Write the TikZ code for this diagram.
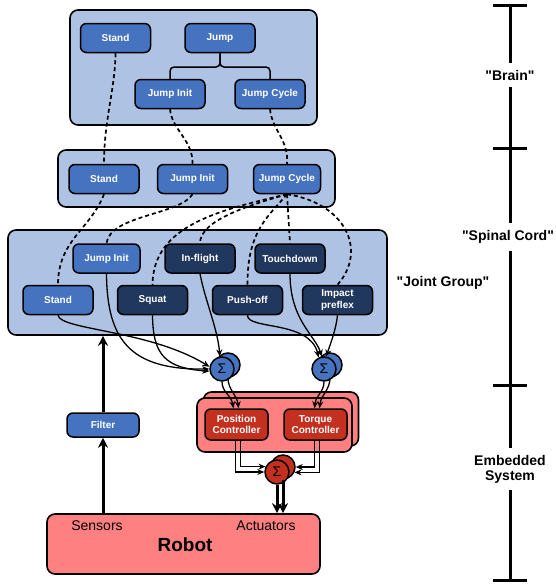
\documentclass[tikz,border=0pt]{standalone}
\usepackage{fontspec}
\setmainfont{Liberation Sans}[Ligatures=TeXOff]
\usetikzlibrary{arrows.meta}
\definecolor{lightblue}{HTML}{AEC2E3}
\definecolor{medblue}{HTML}{4673C0}
\definecolor{navy}{HTML}{20375E}
\definecolor{pinkbox}{HTML}{FF8080}
\definecolor{darkred}{HTML}{C3301F}
\begin{document}
\begin{tikzpicture}[x=1pt,y=-1pt,
  bigbox/.style={draw=black, line width=1.6pt, fill=lightblue, rounded corners=8pt, inner sep=0pt},
  nd/.style={draw=black, line width=1.5pt, rounded corners=6pt, minimum width=70pt, minimum height=29pt,
    text=white, font=\bfseries\fontsize{10}{11.5}\selectfont, align=center, inner sep=1pt},
  mb/.style={nd, fill=medblue},
  db/.style={nd, fill=navy},
  rd/.style={nd, fill=darkred, minimum width=63pt, minimum height=31pt},
  sumb/.style={circle, draw=black, line width=1.5pt, fill=medblue, minimum size=24pt, inner sep=0pt, font=\fontsize{14}{14}\selectfont},
  sumr/.style={sumb, fill=darkred},
  dsh/.style={draw=black, line width=1.7pt, dash pattern=on 4pt off 3pt},
  arr/.style={draw=black, line width=1.3pt, -{Stealth[length=7pt,width=6pt]}},
  tarr/.style={draw=black, line width=3pt, -{Stealth[length=10pt,width=10pt]}},
  lbl/.style={font=\bfseries\fontsize{14}{16}\selectfont, align=center},
  axlbl/.style={lbl, fill=white, inner xsep=1pt, inner ysep=7pt}
]
\useasboundingbox (0,0) rectangle (556,584);

% big boxes
\node[bigbox, minimum width=247pt, minimum height=115pt] (brain) at (193.5,67.5) {};
\node[bigbox, minimum width=277pt, minimum height=57pt] (spinal) at (196.5,178.5) {};
\node[bigbox, minimum width=379pt, minimum height=105pt] (jg) at (197.5,282.5) {};
\node[bigbox, fill=pinkbox, minimum width=155pt, minimum height=54pt] (embb) at (281,419) {};
\node[bigbox, fill=pinkbox, minimum width=155pt, minimum height=54pt] (emb) at (274.5,425) {};
\node[bigbox, fill=pinkbox, minimum width=273pt, minimum height=60pt] (robot) at (183.5,544) {};

% brain nodes
\node[mb] (bStand) at (115.5,38) {Stand};
\node[mb] (bJump) at (220,38) {Jump};
\node[mb] (bInit) at (170,94) {Jump Init};
\node[mb] (bCycle) at (270,94) {Jump Cycle};
\draw[line width=1.5pt, rounded corners=4pt] (bJump.south) -- (220,67) -| (bInit.north);
\draw[line width=1.5pt, rounded corners=4pt] (bJump.south) -- (220,67) -| (bCycle.north);

% spinal nodes
\node[mb] (sStand) at (104,179) {Stand};
\node[mb] (sInit) at (192.5,179) {Jump Init};
\node[mb, minimum width=67pt] (sCycle) at (287,179) {Jump Cycle};

% joint group nodes
\node[mb, minimum width=67pt] (jInit) at (106.5,258.5) {Jump Init};
\node[db] (jFlight) at (200,258.5) {In-flight};
\node[db] (jTouch) at (290,258.5) {Touchdown};
\node[mb] (jStand) at (58,300) {Stand};
\node[db] (jSquat) at (152.5,300) {Squat};
\node[db] (jPush) at (247.5,300) {Push-off};
\node[db] (jImpact) at (337.5,300) {Impact\\preflex};

% dashed links brain -> spinal
\draw[dsh] (bStand.south) .. controls (115,90) and (104,120) .. (sStand.north);
\draw[dsh] (bInit.south) .. controls (172,130) and (193,140) .. (sInit.north);
\draw[dsh] (bCycle.south) .. controls (272,130) and (289,140) .. (sCycle.north);

% dashed links spinal -> joint group
\draw[dsh] (sStand.south) .. controls (90,230) and (58,240) .. (jStand.north);
\draw[dsh] (sInit.south) .. controls (180,215) and (110,215) .. (jInit.north);
\draw[dsh] (sCycle.south) .. controls (220,210) and (153,225) .. (jSquat.north);
\draw[dsh] (sCycle.south) .. controls (250,205) and (200,220) .. (jFlight.north);
\draw[dsh] (sCycle.south) .. controls (270,215) and (247,230) .. (jPush.north);
\draw[dsh] (sCycle.south) -- (jTouch.north);
\draw[dsh] (sCycle.south) .. controls (345,203) and (368,250) .. (jImpact.north);

% sums
\node[sumb] (sum1b) at (228,365) {};
\node[sumb] (sum1) at (222,369) {Σ};
\node[sumb] (sum2b) at (330,365) {};
\node[sumb] (sum2) at (324,369) {Σ};

% arrows into sum1
\draw[arr] (jStand.south) .. controls (60,330) and (150,330) .. (sum1.170);
\draw[arr] (jInit.south) .. controls (107,340) and (130,370) .. (sum1.180);
\draw[arr] (jSquat.south) .. controls (153,355) and (165,368) .. (sum1.190);
\draw[arr] (jFlight.south) .. controls (205,300) and (218,330) .. (sum1.100);
% arrows into sum2
\draw[arr] (jPush.south) .. controls (247,330) and (310,320) .. (sum2.115);
\draw[arr] (jTouch.south) .. controls (290,320) and (315,335) .. (sum2.100);
\draw[arr] (jImpact.south) .. controls (336,330) and (330,345) .. (sum2.80);

% controllers
\node[rd] (pc) at (236.5,424.5) {Position\\Controller};
\node[rd] (tq) at (315.5,424.5) {Torque\\Controller};

\draw[arr] (sum1.south) .. controls (222,392) and (231,395) .. ([xshift=-3pt]pc.north);
\draw[arr] (sum1b.south) .. controls (228,390) and (237,395) .. ([xshift=2pt]pc.north);
\draw[arr] (sum2.south) .. controls (324,392) and (316,395) .. ([xshift=-1pt]tq.north);
\draw[arr] (sum2b.south) .. controls (330,390) and (321,395) .. ([xshift=4pt]tq.north);

% output sum
\node[sumr] (sum3b) at (283,467) {};
\node[sumr] (sum3) at (277,472) {Σ};

\draw[arr] ([xshift=-1pt]pc.south) |- (sum3.west);
\draw[arr] ([xshift=4pt]pc.south) |- (sum3.155);
\draw[arr] ([xshift=-1pt]tq.south) |- (sum3b.east);
\draw[arr] ([xshift=4pt]tq.south) |- (sum3b.-25);

\draw[tarr] (sum3.south) -- (sum3.south |- robot.north);
\draw[tarr] (sum3b.south) -- (sum3b.south |- robot.north);

% robot texts
\node[font=\fontsize{14}{16}\selectfont] (sens) at (97,526) {Sensors};
\node[font=\fontsize{14}{16}\selectfont] (act) at (266,526) {Actuators};
\node[font=\bfseries\fontsize{19}{22}\selectfont] (rob) at (185,545) {Robot};

% filter
\node[mb, minimum width=72pt, minimum height=24pt] (filter) at (103,425) {Filter};
\draw[tarr] (filter.south |- robot.north) -- (filter.south);
\draw[tarr] (filter.north) -- (filter.north |- jg.south);

% joint group label
\node[lbl] (jgl) at (443,283) {"Joint Group"};

% axis
\coordinate (axT) at (510,5);
\coordinate (ax1) at (510,148);
\coordinate (ax2) at (510,385);
\coordinate (axB) at (510,580);
\draw[line width=3pt] (axT) -- (axB);
\foreach \c in {axT,ax1,ax2,axB}{
  \draw[line width=3pt] ([xshift=-17pt]\c) -- ([xshift=17pt]\c);
}
\node[axlbl] (lBrain) at (510,75) {"Brain"};
\node[axlbl] (lSpinal) at (508,237) {"Spinal Cord"};
\node[axlbl, font=\bfseries\fontsize{14}{15}\selectfont] (lEmb) at (510,469) {Embedded\\System};
\end{tikzpicture}
\end{document}
